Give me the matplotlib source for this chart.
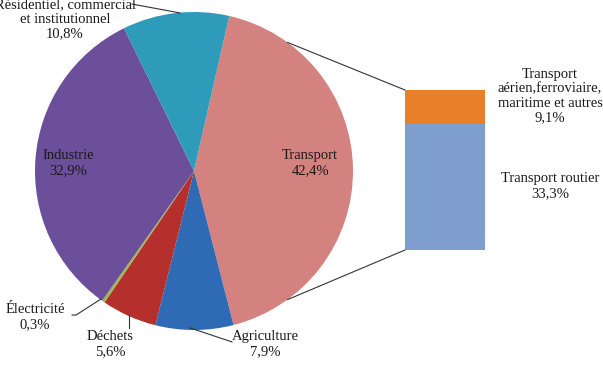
import matplotlib.pyplot as plt
from matplotlib.patches import ConnectionPatch
import numpy as np

plt.rcParams['font.family'] = ['Liberation Serif', 'DejaVu Serif']

# data
sectors = ["Transport", "Agriculture", "Déchets", "Électricité", "Industrie",
           "Résidentiel, commercial\net institutionnel"]
shares = [42.4, 7.9, 5.6, 0.3, 32.9, 10.8]
pie_colors = ["#D4827F", "#2F6BB5", "#B5302C", "#98B954", "#6B4F9B", "#2E9BBB"]

transport_parts = ["Transport routier", "Transport\naérien,ferroviaire,\nmaritime et autres"]
transport_shares = [33.3, 9.1]
bar_colors = ["#7E9ED0", "#E8802A"]

def pct(v):
    return ("%.1f%%" % v).replace(".", ",")

fig = plt.figure(figsize=(6.03, 3.68), dpi=100)

# pie
ax = fig.add_axes([35/603, 38/368, 318/603, 318/368])
wedges, _ = ax.pie(shares, colors=pie_colors, startangle=77.2, counterclock=False,
                   radius=1, wedgeprops=dict(linewidth=0))
ax.set_xlim(-1, 1)
ax.set_ylim(-1, 1)
ax.set_aspect("equal")
ax.axis("off")

txt = dict(ha="center", va="center", fontsize=10.5, color="#1a1a1a", linespacing=1.15)
ax.text(0.730, 0.050, sectors[0] + "\n" + pct(shares[0]), **txt)
ax.text(-0.792, 0.050, sectors[4] + "\n" + pct(shares[4]), **txt)
ax.text(-0.811, 0.955, sectors[5] + "\n" + pct(shares[5]), **txt)
ax.text(-1.0, -0.918, sectors[3] + "\n" + pct(shares[3]), **txt)
ax.text(-0.528, -1.088, sectors[2] + "\n" + pct(shares[2]), **txt)
ax.text(0.447, -1.088, sectors[1] + "\n" + pct(shares[1]), **txt)

# leader lines
lc = dict(color="#333333", lw=0.8, clip_on=False)
ax.plot([-0.390, -0.088], [1.050, 0.994], **lc)
ax.plot([-0.767, -0.742, -0.585], [-0.906, -0.906, -0.805], **lc)
ax.plot([-0.409, -0.409], [-0.906, -0.987], **lc)
ax.plot([0.239, -0.025], [-1.075, -0.987], **lc)

# bar of pie
bx = fig.add_axes([405/603, 118/368, 80/603, 160/368])
bottom = 0
for v, c in zip(transport_shares, bar_colors):
    bx.bar(0.5, v, width=1, bottom=bottom, color=c, linewidth=0)
    bottom += v
bx.set_xlim(0, 1)
bx.set_ylim(0, sum(transport_shares))
bx.axis("off")

bx.text(1.8125, transport_shares[0] / 2 + 0.3, transport_parts[0] + "\n" + pct(transport_shares[0]), **txt)
bx.text(1.8125, 40.8, transport_parts[1] + "\n" + pct(transport_shares[1]), **txt)

# connectors
for ang, yb in [(54, sum(transport_shares)), (-54, 0)]:
    p = (np.cos(np.radians(ang)), np.sin(np.radians(ang)))
    con = ConnectionPatch(xyA=p, coordsA=ax.transData, xyB=(0, yb), coordsB=bx.transData,
                          color="#333333", lw=0.8)
    fig.add_artist(con)

fig.savefig("out.png", dpi=100)
